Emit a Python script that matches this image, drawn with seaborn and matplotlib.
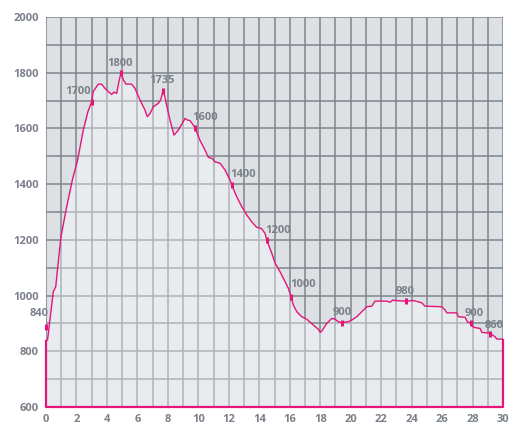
import numpy as np
import pandas as pd
import seaborn as sns
import matplotlib.pyplot as plt
from matplotlib.ticker import MultipleLocator

# profile: distance (km) vs elevation (m)
dist = [0.0, 0.1, 0.48, 0.64, 0.98, 1.36, 1.75, 2.05, 2.45, 2.75, 3.0, 3.1, 3.43, 3.65,
        3.87, 4.09, 4.31, 4.46, 4.64, 4.81, 4.92, 5.08, 5.25, 5.62, 5.84, 6.17, 6.5,
        6.65, 6.83, 7.05, 7.37, 7.53, 7.7, 7.85, 8.14, 8.4, 8.69, 9.13, 9.28, 9.45,
        9.67, 9.78, 10.1, 10.44, 10.66, 10.88, 11.1, 11.43, 11.75, 12.08, 12.19,
        12.52, 12.85, 13.18, 13.5, 13.83, 14.16, 14.38, 14.49, 14.82, 15.04, 15.36,
        15.69, 15.91, 16.07, 16.24, 16.46, 16.79, 17.12, 17.55, 17.88, 18.0, 18.1,
        18.43, 18.76, 18.98, 19.19, 19.41, 19.85, 20.07, 20.4, 20.73, 21.06, 21.38,
        21.6, 22.37, 22.59, 22.76, 22.92, 23.64, 24.12, 24.67, 24.88, 25.98, 26.2,
        26.31, 26.97, 27.07, 27.51, 27.66, 27.89, 28.06, 28.5, 28.61, 29.15, 29.48,
        29.59, 30.0]
elev = [840, 840, 1014, 1032, 1211, 1319, 1420, 1480, 1594, 1660, 1696, 1732, 1759, 1759,
        1744, 1732, 1722, 1730, 1726, 1774, 1800, 1774, 1759, 1759, 1744, 1702, 1666,
        1642, 1654, 1678, 1690, 1702, 1740, 1700, 1630, 1576, 1594, 1636, 1630, 1628,
        1612, 1603, 1558, 1522, 1496, 1493, 1480, 1475, 1451, 1415, 1397,
        1355, 1319, 1289, 1265, 1245, 1240, 1223, 1199, 1152, 1116, 1086,
        1050, 1026, 996, 966, 942, 924, 915, 894, 879, 868, 872,
        900, 918, 915, 906, 903, 906, 912, 924, 942, 960, 962,
        980, 980, 976, 984, 982, 980, 982, 974, 962, 960, 948,
        938, 938, 924, 922, 906, 900, 886, 882, 868, 865, 852,
        844, 844]

# labelled points: marker position, label text, label position
mark_x = [0.0, 3.0, 4.92, 7.7, 9.78, 12.19, 14.49, 16.07, 19.41, 23.64, 27.89, 29.15]
mark_y = [886, 1696, 1800, 1735, 1603, 1397, 1199, 996, 903, 980, 900, 862]
mark_text = ['840', '1700', '1800', '1735', '1600', '1400', '1200', '1000', '900', '980', '900', '860']
text_x = [-0.46, 2.13, 4.86, 7.64, 10.46, 12.93, 15.23, 16.87, 19.42, 23.59, 28.13, 29.45]
text_y = [934, 1732, 1833, 1771, 1638, 1436, 1232, 1038, 938, 1016, 934, 894]

line_col = '#e5157c'
grid_col = '#7d858e'
text_col = '#7b8189'

sns.set_style('white')
plt.rcParams['font.family'] = ['Open Sans', 'DejaVu Sans']

fig = plt.figure(figsize=(5.13, 4.23), dpi=100)
ax = fig.add_axes([46 / 513, 16 / 423, 457 / 513, 390 / 423])
ax.set_facecolor('#dde1e4')

df = pd.DataFrame({'dist': dist, 'elev': elev})
# translucent white veil under the profile, on top of the grid
ax.fill_between(dist, elev, 600, color='white', alpha=0.38, zorder=1.5, lw=0)
sns.lineplot(data=df, x='dist', y='elev', ax=ax, color=line_col, lw=1.0, zorder=3)

# outline of the profile area
ax.plot([0, 0, 30, 30], [elev[0], 600, 600, elev[-1]], color=line_col, lw=1.6,
        zorder=3, clip_on=False, solid_capstyle='butt')

ax.plot(mark_x, mark_y, ls='none', marker='|', ms=5, mew=2.2, color=line_col,
        zorder=4, clip_on=False)
for tx, ty, t in zip(text_x, text_y, mark_text):
    ax.text(tx, ty, t, ha='center', va='center', fontsize=8, fontweight='bold',
            color=text_col, zorder=5, clip_on=False)

ax.set_xlim(0, 30)
ax.set_ylim(600, 2000)
ax.xaxis.set_major_locator(MultipleLocator(2))
ax.xaxis.set_minor_locator(MultipleLocator(1))
ax.yaxis.set_major_locator(MultipleLocator(200))
ax.yaxis.set_minor_locator(MultipleLocator(100))
ax.grid(which='both', color=grid_col, lw=1.1)
ax.set_axisbelow(True)
for s in ax.spines.values():
    s.set_visible(False)
ax.tick_params(which='both', length=0, labelsize=8, labelcolor=text_col, pad=5)
for lab in ax.get_xticklabels() + ax.get_yticklabels():
    lab.set_fontweight('bold')
ax.set_xlabel('')
ax.set_ylabel('')

fig.savefig('out.png', dpi=100)
